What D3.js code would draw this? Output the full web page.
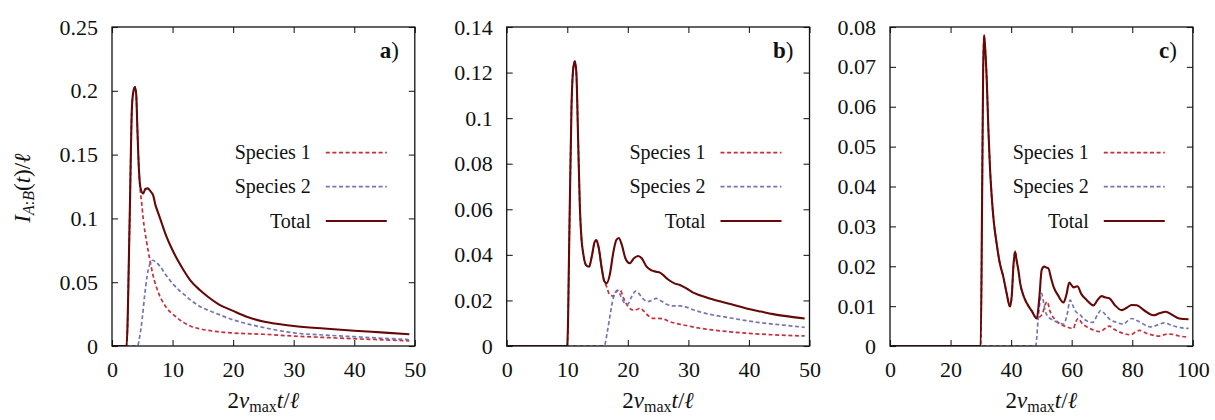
<!DOCTYPE html>
<html><head><meta charset="utf-8">
<script src="https://cdn.jsdelivr.net/npm/d3@7"></script>
<style>
body{margin:0;background:#fff;}
svg{display:block;}
</style></head>
<body><svg id="chart" width="1215" height="420" font-family="Liberation Serif"></svg>
<script>
// ---------- DATA ----------
const seriesNames = ["Species 1", "Species 2", "Total"];
const panelLabels = ["a", "b", "c"];
const xDomains = [[0, 50], [0, 50], [0, 100]];
const yDomains = [[0, 0.25], [0, 0.14], [0, 0.08]];
const xTickValues = [[0,10,20,30,40,50],[0,10,20,30,40,50],[0,20,40,60,80,100]];
const yTickValues = [[0,0.05,0.1,0.15,0.2,0.25],[0,0.02,0.04,0.06,0.08,0.1,0.12,0.14],[0,0.01,0.02,0.03,0.04,0.05,0.06,0.07,0.08]];

const aTotal = [[0,0],[2.4,0],[2.9,0.095],[3.3,0.188],[3.55,0.2],[3.8,0.203],[4.0,0.197],[4.18,0.172],[4.45,0.138],[4.7,0.124],[5.15,0.1195],[5.5,0.123],[5.9,0.1235],[6.4,0.121],[6.8,0.118],[7.2,0.11],[7.65,0.104],[8.3,0.095],[9.0,0.0857],[10,0.075],[11,0.066],[11.8,0.0596],[13,0.051],[14.5,0.0439],[16,0.038],[17.5,0.033],[20,0.0275],[22.5,0.0225],[25,0.0192],[27.5,0.0172],[30,0.0157],[35,0.0137],[40,0.012],[45,0.0105],[49.1,0.0092]];
const aSpecies1 = [[0,0],[2.4,0],[2.9,0.095],[3.3,0.188],[3.55,0.2],[3.8,0.203],[4.0,0.197],[4.18,0.172],[4.45,0.138],[4.65,0.123],[4.9,0.112],[5.17,0.099],[5.7,0.082],[6.27,0.067],[6.8,0.055],[7.65,0.042],[9.0,0.030],[10.4,0.0235],[11.8,0.0185],[13,0.0155],[14.5,0.0135],[17.5,0.0112],[20,0.0102],[25,0.0092],[30,0.0078],[35,0.0067],[40,0.0057],[45,0.0048],[49.1,0.0040]];
const aSpecies2 = [[0,0],[4.2,0],[4.6,0.008],[5.0,0.022],[5.4,0.04],[5.8,0.055],[6.2,0.0635],[6.7,0.0672],[7.2,0.066],[8,0.062],[9,0.055],[10,0.049],[11,0.044],[12,0.040],[13,0.036],[14.5,0.031],[16,0.0278],[17.5,0.025],[20,0.0205],[22.5,0.0172],[25,0.0145],[30,0.0103],[35,0.0086],[40,0.0073],[45,0.006],[49.1,0.005]];

const bTotal = [[0,0],[10.0,0],[10.35,0.05],[10.7,0.105],[11.0,0.122],[11.26,0.125],[11.5,0.12],[11.8,0.09],[12.08,0.061],[12.35,0.047],[12.63,0.0407],[13.1,0.0355],[13.6,0.0348],[14.1,0.040],[14.5,0.0455],[14.8,0.0465],[15.2,0.043],[15.7,0.034],[16.1,0.0285],[16.5,0.0275],[17.0,0.031],[17.6,0.041],[18.1,0.0465],[18.5,0.0474],[19.0,0.0445],[19.6,0.0385],[20.3,0.0363],[21.0,0.0385],[21.7,0.0395],[22.3,0.0385],[23.1,0.0348],[23.9,0.0332],[24.7,0.0326],[25.3,0.0322],[25.8,0.0312],[26.6,0.0293],[27.7,0.0275],[28.6,0.0268],[29.9,0.0249],[31,0.0232],[33,0.0213],[35.2,0.0196],[37.5,0.018],[39.6,0.0165],[42,0.0151],[44,0.014],[46.5,0.013],[49.2,0.0121]];
const bSpecies1 = [[0,0],[10.0,0],[10.35,0.05],[10.7,0.105],[11.0,0.122],[11.26,0.125],[11.5,0.12],[11.8,0.09],[12.08,0.061],[12.35,0.047],[12.63,0.0407],[13.1,0.0355],[13.6,0.0348],[14.1,0.040],[14.5,0.0455],[14.8,0.0465],[15.2,0.043],[15.7,0.034],[16.1,0.0285],[16.5,0.026],[17.0,0.0225],[17.6,0.0219],[18.2,0.0243],[18.7,0.0246],[19.3,0.021],[20.0,0.0175],[20.9,0.0158],[21.5,0.016],[22.0,0.0166],[22.7,0.0152],[23.5,0.013],[24.2,0.0121],[25.0,0.0121],[25.8,0.012],[26.8,0.0108],[28.0,0.0099],[30,0.0088],[31.9,0.0078],[34.1,0.007],[37,0.0062],[39.6,0.0056],[42,0.0052],[45,0.0048],[49.2,0.0044]];
const bSpecies2 = [[0,0],[16.1,0],[16.6,0.006],[17.1,0.014],[17.6,0.021],[18.1,0.024],[18.4,0.0241],[18.9,0.0215],[19.5,0.0188],[20.0,0.0184],[20.6,0.0215],[21.3,0.0241],[21.9,0.0228],[22.6,0.0205],[23.3,0.0195],[24.0,0.0201],[24.7,0.0209],[25.5,0.0198],[26.5,0.0182],[27.5,0.0176],[28.6,0.0176],[29.5,0.0172],[31,0.0157],[34.1,0.0136],[37,0.0123],[39.6,0.0111],[42,0.0102],[45.5,0.0092],[49.2,0.0082]];

const cTotal = [[0,0],[29.95,0],[30.4,0.035],[30.75,0.068],[31.05,0.078],[31.4,0.075],[31.95,0.0667],[32.5,0.0542],[33.0,0.045],[33.6,0.0374],[34.3,0.031],[35.2,0.0258],[36.2,0.021],[37.4,0.0174],[38.5,0.0133],[39.6,0.0099],[40.2,0.0125],[40.8,0.0205],[41.3,0.0237],[41.8,0.0215],[42.4,0.019],[43.0,0.0157],[44,0.0128],[45.2,0.0107],[46.8,0.0088],[48.5,0.0069],[49.3,0.012],[50.1,0.0191],[50.9,0.0199],[51.6,0.0197],[52.3,0.0195],[53.2,0.017],[54.0,0.0149],[55.5,0.0127],[57.3,0.0109],[58.3,0.013],[59.2,0.0159],[60.0,0.0152],[60.6,0.0147],[61.9,0.015],[63.2,0.013],[65.0,0.0115],[67.2,0.0102],[68.5,0.0115],[69.9,0.0125],[71.0,0.0122],[72.4,0.012],[74.2,0.0103],[76.5,0.009],[78.2,0.0096],[79.8,0.0103],[81.5,0.0102],[84,0.0089],[87.0,0.0077],[89,0.0082],[91.1,0.0086],[93,0.0079],[95.5,0.0069],[98.6,0.0067]];
const cSpecies1 = [[0,0],[29.95,0],[30.4,0.035],[30.75,0.068],[31.05,0.078],[31.4,0.075],[31.95,0.0667],[32.5,0.0542],[33.0,0.045],[33.6,0.0374],[34.3,0.031],[35.2,0.0258],[36.2,0.021],[37.4,0.0174],[38.5,0.0133],[39.6,0.0099],[40.2,0.0125],[40.8,0.0205],[41.3,0.0237],[41.8,0.0215],[42.4,0.019],[43.0,0.0157],[44,0.0128],[45.2,0.0107],[46.8,0.0088],[48.5,0.0069],[49.3,0.0072],[50.4,0.0082],[51.3,0.0105],[52.0,0.0111],[52.7,0.009],[53.4,0.0078],[54.8,0.0064],[56.2,0.0055],[58.0,0.0049],[60.6,0.0044],[61.3,0.006],[62.2,0.0069],[63.3,0.0058],[65.0,0.0048],[67.2,0.004],[69.4,0.0036],[71,0.0044],[72.4,0.005],[74,0.0042],[76.5,0.0033],[79.5,0.0028],[81.2,0.0036],[82.4,0.0039],[85,0.0031],[88.9,0.0025],[91,0.0029],[92.5,0.003],[95.5,0.0025],[98.6,0.0022]];
const cSpecies2 = [[0,0],[48.1,0],[48.9,0.0065],[49.6,0.0115],[50.1,0.0132],[50.6,0.0115],[51.2,0.009],[52.0,0.0075],[52.9,0.0069],[54.5,0.0062],[56.2,0.0057],[57.4,0.0055],[58.5,0.008],[59.5,0.0115],[60.2,0.0105],[61.2,0.0088],[62.8,0.0078],[64.5,0.0065],[67.0,0.0059],[68.5,0.0078],[69.6,0.0089],[71.0,0.008],[72.7,0.0066],[74.5,0.006],[77.1,0.0055],[78.5,0.0063],[79.8,0.0069],[82,0.0062],[86.0,0.0048],[88.5,0.0053],[90.6,0.0058],[93,0.0052],[96,0.0046],[98.6,0.0044]];

const panelSeries = [[aSpecies1, aSpecies2, aTotal],[bSpecies1, bSpecies2, bTotal],[cSpecies1, cSpecies2, cTotal]];

// ---------- LAYOUT / STYLE ----------
const FONT = "Liberation Serif";
const plotLefts = [112, 506.7, 890];
const plotWidth = 302.8;
const plotTop = 27, plotBottom = 346;
const styles = [
  {color:"#c4303c", width:1.7, dash:"4,2.6"},
  {color:"#7474b6", width:1.7, dash:"4,2.6"},
  {color:"#650808", width:2.1, dash:null}
];
const legendRows = [152.7, 186.7, 221];

const svg = d3.select("#chart");
svg.append("rect").attr("width",1215).attr("height",420).attr("fill","#fff");

const fmt = d => String(+d.toFixed(3));
const txt = (sel) => sel.append("text").attr("font-family", FONT).attr("fill","#111");

panelSeries.forEach((series, i) => {
  const left = plotLefts[i], right = left + plotWidth;
  const x = d3.scaleLinear().domain(xDomains[i]).range([left, right]);
  const y = d3.scaleLinear().domain(yDomains[i]).range([plotBottom, plotTop]);
  const g = svg.append("g");

  const clipId = "clip" + i;
  g.append("clipPath").attr("id", clipId).append("rect")
    .attr("x", left).attr("y", plotTop).attr("width", plotWidth).attr("height", plotBottom - plotTop);

  const line = d3.line().x(d => x(d[0])).y(d => y(d[1])).curve(d3.curveMonotoneX);
  const lines = g.append("g").attr("clip-path", `url(#${clipId})`);
  series.forEach((data, k) => {
    const s = styles[k];
    lines.append("path").datum(data).attr("d", line)
      .attr("fill","none").attr("stroke", s.color).attr("stroke-width", s.width)
      .attr("stroke-dasharray", s.dash).attr("stroke-linejoin","round");
  });

  // axes
  const bottom = g.append("g").attr("transform", `translate(0,${plotBottom})`)
    .call(d3.axisBottom(x).tickValues(xTickValues[i]).tickFormat(fmt).tickSizeInner(-6).tickSizeOuter(0).tickPadding(15));
  const leftAx = g.append("g").attr("transform", `translate(${left},0)`)
    .call(d3.axisLeft(y).tickValues(yTickValues[i]).tickFormat(fmt).tickSizeInner(-6).tickSizeOuter(0).tickPadding(14));
  const topAx = g.append("g").attr("transform", `translate(0,${plotTop})`)
    .call(d3.axisTop(x).tickValues(xTickValues[i]).tickFormat("").tickSizeInner(-6).tickSizeOuter(0));
  const rightAx = g.append("g").attr("transform", `translate(${right},0)`)
    .call(d3.axisRight(y).tickValues(yTickValues[i]).tickFormat("").tickSizeInner(-6).tickSizeOuter(0));
  [bottom, leftAx, topAx, rightAx].forEach(a => {
    a.attr("font-family", FONT).attr("font-size", 22);
    a.select(".domain").remove();
    a.selectAll("line").attr("stroke","#222").attr("stroke-width",1.1);
    a.selectAll("text").attr("font-family", FONT).attr("font-size",22).attr("fill","#111");
  });

  g.append("rect").attr("x", left).attr("y", plotTop).attr("width", plotWidth).attr("height", plotBottom - plotTop)
    .attr("fill","none").attr("stroke","#111").attr("stroke-width",1.3);

  // panel label
  const pl = txt(g).attr("x", right - 16).attr("y", 58).attr("text-anchor","end").attr("font-size",23);
  pl.append("tspan").attr("font-weight","bold").text(panelLabels[i]);
  pl.append("tspan").text(")");

  // legend
  seriesNames.forEach((name, k) => {
    const s = styles[k];
    txt(g).attr("x", right - 104).attr("y", legendRows[k]).attr("dy","0.33em")
      .attr("text-anchor","end").attr("font-size",20).text(name);
    g.append("line").attr("x1", right - 89).attr("x2", right - 28)
      .attr("y1", legendRows[k]).attr("y2", legendRows[k])
      .attr("stroke", s.color).attr("stroke-width", s.width).attr("stroke-dasharray", s.dash);
  });

  // x axis title
  const xt = txt(g).attr("x", (left + right) / 2).attr("y", 408).attr("text-anchor","middle").attr("font-size",23);
  xt.append("tspan").text("2");
  xt.append("tspan").attr("font-style","italic").text("v");
  xt.append("tspan").attr("font-size",16).attr("dy",4).text("max");
  xt.append("tspan").attr("font-style","italic").attr("dy",-4).text("t");
  xt.append("tspan").text("/");
  xt.append("tspan").attr("font-style","italic").text("ℓ");

  if (i === 0) {
    const yt = txt(g).attr("transform", `translate(30,188) rotate(-90)`)
      .attr("text-anchor","middle").attr("font-size",23);
    yt.append("tspan").attr("font-style","italic").text("I");
    yt.append("tspan").attr("font-size",16).attr("dy",4).attr("font-style","italic").text("A");
    yt.append("tspan").attr("font-size",16).text(":");
    yt.append("tspan").attr("font-size",16).attr("font-style","italic").text("B");
    yt.append("tspan").attr("dy",-4).text("(");
    yt.append("tspan").attr("font-style","italic").text("t");
    yt.append("tspan").text(")/");
    yt.append("tspan").attr("font-style","italic").text("ℓ");
  }
});
</script></body></html>
